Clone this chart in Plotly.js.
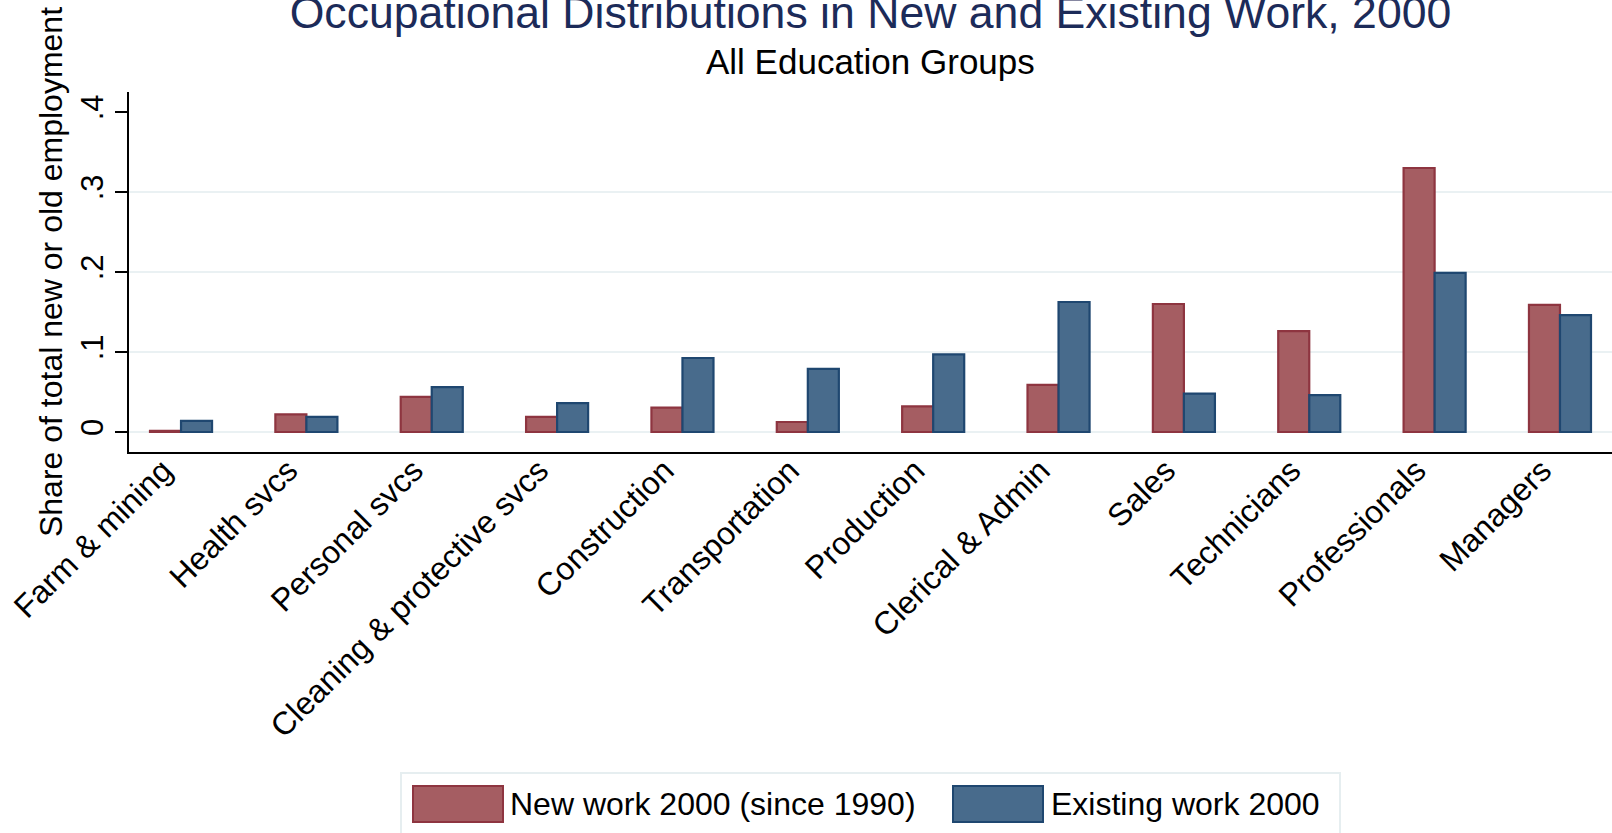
<!DOCTYPE html>
<html>
<head>
<meta charset="utf-8">
<script src="https://cdn.plot.ly/plotly-3.0.1.min.js"></script>
<style>html,body{margin:0;padding:0;background:#fff;}#chart{width:1612px;height:833px;}</style>
</head>
<body>
<div id="chart"></div>
<script>
const categories = ["Farm & mining","Health svcs","Personal svcs","Cleaning & protective svcs","Construction","Transportation","Production","Clerical & Admin","Sales","Technicians","Professionals","Managers"];
const newWork2000 = [0.0015, 0.022, 0.044, 0.019, 0.0305, 0.0125, 0.032, 0.059, 0.160, 0.126, 0.330, 0.159];
const existingWork2000 = [0.014, 0.019, 0.056, 0.036, 0.0925, 0.079, 0.097, 0.1625, 0.048, 0.046, 0.199, 0.146];
const seriesNames = ["New work 2000 (since 1990)", "Existing work 2000"];
const yTickVals = [0, 0.1, 0.2, 0.3, 0.4];
const yTickText = ["0", ".1", ".2", ".3", ".4"];
const gridVals = [0, 0.1, 0.2, 0.3];

const FONT = "Liberation Sans, Arial, Helvetica, sans-serif";
const redFill = "#a55d62", redLine = "#8e3540";
const blueFill = "#486b8c", blueLine = "#1f4770";

const traces = [
  {type: "bar", x: categories, y: newWork2000, name: seriesNames[0],
   marker: {color: redFill, line: {color: redLine, width: 2.2}}},
  {type: "bar", x: categories, y: existingWork2000, name: seriesNames[1],
   marker: {color: blueFill, line: {color: blueLine, width: 2.2}}}
];

// plot area in px: x 129..1612, y 92..452
const L = 129, R = 1612, T = 92, B = 452;
const px = v => (v - L) / (R - L);
const py = v => (B - v) / (B - T);

const shapes = gridVals.map(v => ({type: "line", xref: "paper", yref: "y", x0: 0, x1: 1, y0: v, y1: v,
  line: {color: "#eaf1f3", width: 2}, layer: "below"}));
// legend box
shapes.push({type: "rect", xref: "paper", yref: "paper", x0: px(401), x1: px(1340), y0: py(773), y1: py(834),
  line: {color: "#e6eef0", width: 2}, fillcolor: "rgba(0,0,0,0)"});
shapes.push({type: "rect", xref: "paper", yref: "paper", x0: px(413), x1: px(503), y0: py(786), y1: py(822),
  line: {color: redLine, width: 2}, fillcolor: redFill});
shapes.push({type: "rect", xref: "paper", yref: "paper", x0: px(953), x1: px(1043), y0: py(786), y1: py(822),
  line: {color: blueLine, width: 2}, fillcolor: blueFill});

const annotations = [
  {text: "All Education Groups", xref: "paper", yref: "paper", x: 0.5, y: py(61), xanchor: "center", yanchor: "middle",
   showarrow: false, font: {family: FONT, size: 35, color: "#000"}},
  {text: seriesNames[0], xref: "paper", yref: "paper", x: px(508), y: py(804), xanchor: "left", yanchor: "middle",
   showarrow: false, font: {family: FONT, size: 32, color: "#000"}},
  {text: seriesNames[1], xref: "paper", yref: "paper", x: px(1049), y: py(804), xanchor: "left", yanchor: "middle",
   showarrow: false, font: {family: FONT, size: 32, color: "#000"}}
];

const layout = {
  width: 1612, height: 833,
  margin: {l: L, r: 1612 - R, t: T, b: 833 - B, pad: 0},
  paper_bgcolor: "#fff", plot_bgcolor: "#fff",
  showlegend: false,
  barmode: "group", bargap: 0.505, bargroupgap: 0,
  title: {text: "Occupational Distributions in New and Existing Work, 2000",
    xref: "paper", x: 0.5, xanchor: "center", yref: "container", y: 1 - 12/833, yanchor: "middle",
    font: {family: FONT, size: 44.6, color: "#1c2b59"}},
  font: {family: FONT, color: "#000"},
  xaxis: {type: "category", range: [-0.415, 11.415], showgrid: false, zeroline: false,
    showline: true, linecolor: "#000", linewidth: 2, ticks: "", tickangle: -45,
    ticklabelshift: -18, ticklabelstandoff: -15,
    tickfont: {family: FONT, size: 32, color: "#000"}, automargin: false},
  yaxis: {range: [-0.025, 0.425], tickvals: yTickVals, ticktext: yTickText, tickangle: -90,
    showgrid: false, zeroline: false, showline: true, linecolor: "#000", linewidth: 2,
    ticks: "outside", ticklen: 12, tickwidth: 2, tickcolor: "#000",
    tickfont: {family: FONT, size: 31, color: "#000"}, automargin: false,
    title: {text: "Share of total new or old employment", standoff: 2, font: {family: FONT, size: 32, color: "#000"}}},
  shapes: shapes,
  annotations: annotations
};

Plotly.newPlot("chart", traces, layout, {displayModeBar: false, staticPlot: true});
</script>
</body>
</html>
